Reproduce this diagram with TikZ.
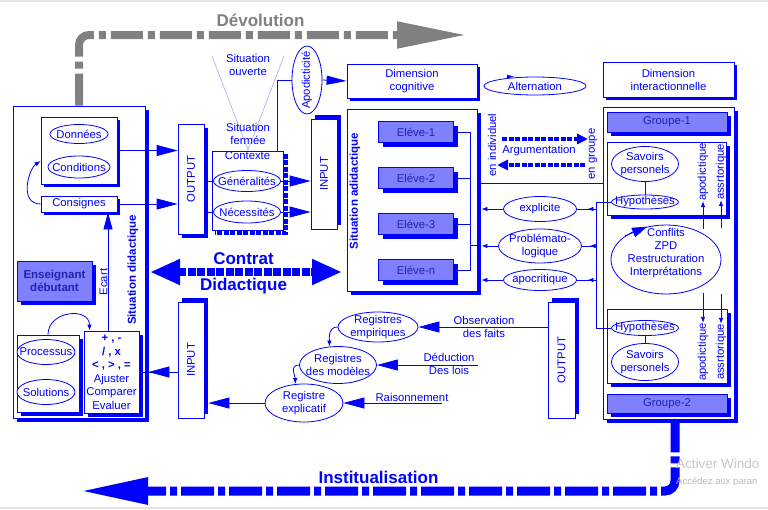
\documentclass[tikz,border=0pt]{standalone}
\usepackage{fontspec}
\setmainfont{Liberation Sans}
\usetikzlibrary{arrows.meta,shapes.geometric,shadows,decorations.markings}
\definecolor{lblue}{RGB}{128,128,255}
\definecolor{dkblue}{RGB}{34,34,170}
\definecolor{devgray}{RGB}{128,128,128}

\begin{document}
\begin{tikzpicture}[x=1pt,y=-1pt,
  every node/.style={font=\fontsize{11.3}{13}\selectfont, text=blue, inner sep=0pt},
  box/.style={draw=blue, fill=white, line width=0.8pt},
  shd/.style={drop shadow={shadow xshift=4pt,shadow yshift=-4pt,fill=blue,opacity=1}},
  shds/.style={drop shadow={shadow xshift=3pt,shadow yshift=-3pt,fill=blue,opacity=1}},
  shdup/.style={drop shadow={shadow xshift=4pt,shadow yshift=4pt,fill=blue,opacity=1}},
  fillbox/.style={box, fill=lblue, text=dkblue},
  ell/.style={draw=blue, fill=white, ellipse, line width=0.8pt},
  link/.style={draw=blue, line width=0.8pt},
  bigtip/.style={-{Triangle[length=21pt,width=11pt]}},
  smalltip/.style={-{Latex[length=6pt,width=4.5pt]}},
  midtip/.style={postaction={decorate},decoration={markings,mark=at position 0.45 with {\arrow{Latex[length=6pt,width=4.5pt]}}}},
  boldtxt/.style={font=\fontsize{11.5}{13}\selectfont\bfseries},
  bigtxt/.style={font=\fontsize{17}{19}\selectfont\bfseries},
]
\useasboundingbox (0,0) rectangle (768,509);
\draw[gray!20, line width=1.2pt] (0,1) -- (768,1);
\draw[gray!20, line width=1.2pt] (0,508) -- (768,508);

% left part: situation didactique
\node[box, shd, minimum width=132pt, minimum height=312pt] (lbox) at (79,262) {};
\node[box, shds, minimum width=76pt, minimum height=67pt] (dcbox) at (79,150.5) {};
\node[ell, minimum width=58pt, minimum height=19pt, label=center:Données] (don) at (79,134) {};
\node[ell, minimum width=62pt, minimum height=22pt, label=center:Conditions] (cond) at (79,167) {};
\node[box, shds, minimum width=76pt, minimum height=16pt] (consg) at (79,204) {Consignes};
\draw[link, smalltip] (consg.west) .. controls +(-22,0) and +(-12,8) .. ([yshift=6pt]dcbox.west |- cond.center);
\node[fillbox, shd, boldtxt, align=center, minimum width=75pt, minimum height=40pt] (ens) at (54.5,281) {Enseignant\\débutant};
\node[box, shd, minimum width=62pt, minimum height=77pt] (pbox) at (48,373.5) {};
\node[ell, minimum width=58pt, minimum height=25pt, label=center:Processus] (proc) at (46,352) {};
\node[ell, minimum width=58pt, minimum height=25pt, label=center:Solutions] (sol) at (46,392) {};
\node[box, shd, minimum width=55pt, minimum height=82pt, align=center, font=\fontsize{11.3}{13.5}\selectfont] (opbox) at (111.5,372)
  {\textbf{+ , -}\\\textbf{/ , x}\\\textbf{< , > , =}\\Ajuster\\Comparer\\Evaluer};
\draw[link, smalltip] (pbox.north) .. controls +(0,-24) and +(0,-24) .. ([xshift=-22pt]opbox.north);
\draw[link, -{Triangle[length=17pt,width=9pt]}] ([xshift=-3.5pt]opbox.north) -- ([xshift=-3.5pt]opbox.north |- consg.south);
\node[rotate=90] (ecart) at (103.5,282) {Ecart};
\node[boldtxt, rotate=90] (sdid) at (133,270) {Situation didactique};

% output / contexte / input
\node[box, shd, minimum width=26pt, minimum height=110pt, label={[rotate=90]center:OUTPUT}] (out1) at (191,179) {};
\draw[link, bigtip] (dcbox.east) -- (dcbox.east -| out1.west);
\draw[link, bigtip] (consg.east) -- (consg.east -| out1.west);
\coordinate (vapex) at (248,150);
\coordinate (vl) at (212,56);
\coordinate (vr) at (284,56);
\draw[blue!35, line width=0.6pt] (vl) -- (vapex) -- (vr);
\node[align=center] (sito) at (248,65) {Situation\\ouverte};
\node[align=center] (sitf) at (248,133.5) {Situation\\fermée};
\node[box, minimum width=71pt, minimum height=79pt, label={[anchor=north, yshift=-1pt]north:Contexte}] (ctx) at (247.5,190.5) {};
\draw[blue, line width=3.5pt, dash pattern=on 5pt off 1.5pt] ([xshift=2.5pt,yshift=-3pt]ctx.north east) |- ([xshift=3pt,yshift=-2.5pt]ctx.south west);
\node[ell, minimum width=67pt, minimum height=21pt, label=center:Généralités] (gen) at (247,181) {};
\node[ell, minimum width=67pt, minimum height=22pt, label=center:Nécessités] (nec) at (247,212) {};
\draw[link] (out1.east |- gen) -- (gen.west);
\draw[link] (out1.east |- nec) -- (nec.west);
\node[box, shdup, minimum width=26pt, minimum height=110pt, label={[rotate=90]center:INPUT}] (inp1) at (324,174) {};
\draw[link, bigtip] (gen.east) -- (gen.east -| inp1.west);
\draw[link, bigtip] (nec.east) -- (nec.east -| inp1.west);

% top row
\node[ell, minimum width=30pt, minimum height=68pt, label={[rotate=90]center:Apodicticité}] (apod) at (307,80) {};
\draw[link] ([xshift=-6pt]ctx.north east) |- (apod.west);
\node[box, shds, minimum width=130pt, minimum height=34pt, align=center] (dimc) at (412,81) {Dimension\\cognitive};
\draw[link, -{Triangle[length=20pt,width=9pt]}] (apod.east) -- (dimc.west);
\node[ell, minimum width=102pt, minimum height=18pt, label=center:Alternation] (alt) at (535,86) {};
\draw[blue, -{Latex[length=7pt,width=4pt]}] ([xshift=-28pt]alt.north) -- ([xshift=-21pt]alt.north);
\node[box, shds, minimum width=131pt, minimum height=35pt, align=center] (dimi) at (668.5,79.5) {Dimension\\interactionnelle};

% situation adidactique
\node[box, shd, minimum width=130pt, minimum height=182pt] (sadid) at (412,200) {};
\node[boldtxt, rotate=90] (sadtxt) at (355,191) {Situation adidactique};
\foreach \n/\y/\t in {e1/132/Eléve-1, e2/178/Eléve-2, e3/224/Eléve-3, en/270/Eléve-n}
  \node[fillbox, shd, minimum width=75pt, minimum height=21pt] (\n) at (416,\y) {\t};
\coordinate (ej) at (470,245);
\foreach \n in {e1,e2,e3,en}
  \draw[link] (\n.east) -| (ej);
\draw[link] (ej) -- (ej -| sadid.east);
\coordinate (sadR) at ([xshift=4pt]sadid.east);

% right part: groupes
\node[box, shd, minimum width=131pt, minimum height=312pt] (rbox) at (668.5,263) {};
\coordinate (sep) at (540,183);
\draw[link] (sep -| sadid.east) -- (sep -| rbox.west);
\node[rotate=90] (indiv) at (492,145) {en individuel};
\node[rotate=90] (grp) at (593,154) {en groupe};
\node (argu) at (539,151) {Argumentation};
\coordinate (ar1) at (502,139);
\coordinate (ar2) at (588,139);
\coordinate (al1) at (585,165);
\coordinate (al2) at (497,165);
\draw[blue, line width=4pt, dash pattern=on 5pt off 1.5pt, -{Triangle[length=11pt,width=10pt]}] (ar1) -- (ar2);
\draw[blue, line width=4pt, dash pattern=on 5pt off 1.5pt, -{Triangle[length=11pt,width=10pt]}] (al1) -- (al2);

\node[ell, minimum width=73pt, minimum height=25pt, label=center:explicite] (expl) at (540,209) {};
\node[ell, minimum width=83pt, minimum height=34pt, label={[align=center]center:{Problémato-\\logique}}] (prob) at (540,246) {};
\node[ell, minimum width=73pt, minimum height=21pt, label=center:apocritique] (apoc) at (540,280) {};
\foreach \n in {expl,prob,apoc}
  \draw[link, smalltip] (\n.west) -- (\n.west -| sadR);

\node[fillbox, shd, minimum width=120pt, minimum height=20pt] (g1) at (667,122) {Groupe-1};
\node[box, shd, minimum width=119pt, minimum height=73pt] (ib1) at (666.5,178.5) {};
\node[ell, minimum width=67pt, minimum height=35pt, label={[align=center]center:{Savoirs\\personels}}] (sav1) at (645,164) {};
\node[ell, minimum width=67pt, minimum height=14pt, label=center:Hypothèses] (hyp1) at (645,202) {};
\draw[link] (sav1) -- (hyp1);
\node[rotate=90] (apo1) at (703,172) {apodictique};
\node[rotate=90] (ass1) at (721,172) {assrtorique};

\node[ell, minimum width=110pt, minimum height=69pt, label={[align=center,yshift=6.5pt]center:{Conflits\\ZPD\\Restructuration\\Interprétations}}] (conf) at (666,259.5) {};
\draw[blue, line width=0.8pt, -{Triangle[length=15pt,width=10pt]}] (conf.150) -- (conf.120);
\draw[link, smalltip] ([yshift=-28pt]apo1.west) -- (apo1.west);
\draw[link, smalltip] ([yshift=-28pt]ass1.west) -- (ass1.west);

\node[box, shd, minimum width=120pt, minimum height=74pt] (ib2) at (667,346) {};
\node[ell, minimum width=67pt, minimum height=15pt, label=center:Hypothèses] (hyp2) at (645,328) {};
\node[ell, minimum width=67pt, minimum height=37pt, label={[align=center]center:{Savoirs\\personels}}] (sav2) at (645,362) {};
\draw[link] (hyp2) -- (sav2);
\node[rotate=90] (apo2) at (703,352) {apodictique};
\node[rotate=90] (ass2) at (721,352) {assrtorique};
\draw[link, smalltip] ([yshift=30pt]apo2.east) -- (apo2.east);
\draw[link, smalltip] ([yshift=30pt]ass2.east) -- (ass2.east);
\node[fillbox, shd, minimum width=120pt, minimum height=19pt] (g2) at (667,403.5) {Groupe-2};

\coordinate (hv) at (596,250);
\draw[link] (hyp1.west) -- (hyp1.west -| hv) -- (hyp2.west -| hv) -- (hyp2.west);
\foreach \n in {expl,prob,apoc}
  \draw[link, midtip] (\n.east -| hv) -- (\n.east);

% lower part: registres
\node[box, shdup, minimum width=27pt, minimum height=116pt, label={[rotate=90]center:OUTPUT}] (out2) at (561.5,360) {};
\node[box, shdup, minimum width=26pt, minimum height=116pt, label={[rotate=90]center:INPUT}] (inp2) at (191,360) {};
\coordinate (lboxR) at ([xshift=9pt]opbox.east);
\draw[link] (opbox.east) -- (inp2.west |- opbox.east);
\draw[link, bigtip] (inp2.west |- opbox.east) -- (lboxR);

\node[ell, minimum width=80pt, minimum height=30pt, label={[align=center]center:{Registres\\empiriques}}] (remp) at (378,327) {};
\node[ell, minimum width=77pt, minimum height=37pt, label={[align=center]center:{Registres\\des modèles}}] (rmod) at (338,365) {};
\node[ell, minimum width=78pt, minimum height=38pt, label={[align=center]center:{Registre\\explicatif}}] (rexp) at (304,403) {};
\draw[link, smalltip] (remp.west) .. controls +(-10,0) and +(0,-8) .. (rmod.115);
\draw[link, smalltip] (rmod.west) .. controls +(-10,0) and +(0,-8) .. (rexp.115);

\draw[link, bigtip] (out2.west |- remp.east) -- (remp.east);
\node[align=center] (obs) at (484,327) {Observation\\des faits};
\coordinate (ded) at (478,365);
\draw[link, bigtip] (ded) -- (ded -| rmod.east);
\node[align=center] (dedt) at (449,364) {Déduction\\Des lois};
\coordinate (rai) at (442,403);
\draw[link, bigtip] (rai) -- (rai -| rexp.east);
\node (rait) at (412,397) {Raisonnement};
\coordinate (inp2R) at ([xshift=4pt]inp2.east);
\draw[link, bigtip] (rexp.west) -- (rexp.west -| inp2R);

% contrat didactique
\coordinate (cl) at (150,272);
\coordinate (cr) at (342,272);
\draw[blue, line width=8pt, dash pattern=on 8pt off 1.5pt, {Triangle[length=30pt,width=24pt]}-{Triangle[length=30pt,width=24pt]}] (cl) -- (cr);
\node[bigtxt] (contrat) at (243.5,258.5) {Contrat};
\node[bigtxt] (didac) at (243.5,286) {Didactique};

% devolution / institualisation
\coordinate (devtip) at (467,35);
\draw[devgray, line width=8pt, rounded corners=10pt, dash pattern=on 32pt off 5pt on 7pt off 5pt, -{Triangle[length=70pt,width=25pt]}] (lbox.north) |- (devtip);
\node[bigtxt, text=devgray] (devol) at (260.5,20) {Dévolution};
\coordinate (insttip) at (80,491);
\draw[blue, line width=9pt, rounded corners=10pt, dash pattern=on 33pt off 4pt on 7pt off 4pt, -{Triangle[length=68pt,width=25pt]}] ([xshift=6.5pt]rbox.south) |- (insttip);
\node[bigtxt] (instit) at (378.5,477) {Institualisation};

\node[anchor=west, text=gray!45, font=\fontsize{13.5}{15}\selectfont] (wm1) at (676,464) {Activer Windo};
\node[anchor=west, text=gray!55, font=\fontsize{9.5}{11}\selectfont] (wm2) at (676,482) {Accédez aux paran};
\end{tikzpicture}
\end{document}
